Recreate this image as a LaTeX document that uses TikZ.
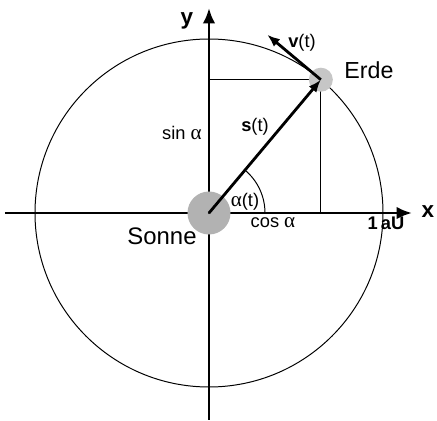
\documentclass[tikz,border=0pt]{standalone}
\usepackage{fontspec}
\setmainfont{Liberation Sans}
\newfontfamily\greekfont{Liberation Serif}
\usetikzlibrary{arrows.meta, positioning, calc}
\tikzstyle{axis} = [line width=2pt, -{Latex[length=11pt,width=9pt]}]
\tikzstyle{vec} = [line width=2pt, -{Latex[length=9pt,width=7pt]}]
\tikzstyle{helper} = [line width=0.6pt]
\tikzstyle{body} = [circle, inner sep=0pt]
\newcommand{\alphasym}{{\greekfont\fontsize{15}{17}\selectfont α}}

\begin{document}
\begin{tikzpicture}[x=0.025cm, y=0.025cm, every node/.style={font=\fontsize{13}{15}\selectfont, inner sep=0pt}]
    \useasboundingbox (-209,-208) rectangle (228,213);

    % Orbit
    \draw[line width=0.7pt] (0,0) circle (174);

    % Axes
    \coordinate (xstart) at (-204,0);
    \coordinate (xend) at (203,0);
    \coordinate (ystart) at (0,-207);
    \coordinate (yend) at (0,205);
    \draw [axis] (xstart) -- (xend);
    \draw [axis] (ystart) -- (yend);
    \node (xlabel) [font=\fontsize{16}{18}\selectfont\bfseries] at (219,1) {x};
    \node (ylabel) [font=\fontsize{16}{18}\selectfont\bfseries] at (-22,192) {y};

    % Projections of the earth position
    \coordinate (earthpos) at (50:174);
    \coordinate (yproj) at (0,0 |- earthpos);
    \coordinate (xproj) at (earthpos |- 0,0);
    \draw [helper] (yproj) -- (earthpos) -- (xproj);

    % Sun and earth
    \node (sonne) [body, fill=gray!60, minimum size=1.075cm] at (0,0) {};
    \node (erde) [body, fill=gray!45, minimum size=0.6cm] at (earthpos) {};
    \fill (sonne.center) circle (1.2);

    % Angle
    \draw [line width=0.7pt] (56,0) arc (0:50:56);

    % Vectors
    \draw [vec] (sonne.center) -- (erde.center);
    \coordinate (vtip) at ($(erde.center)+(140:70)$);
    \draw [vec] (erde.center) -- (vtip);

    % Labels
    \node (erdelabel) [font=\fontsize{16.5}{19}\selectfont] at (160,143) {Erde};
    \node (sonnelabel) [font=\fontsize{17}{19}\selectfont] at (-47,-23) {Sonne};
    \node (slabel) at (46,86) {\textbf{s}(t)};
    \node (vlabel) at (93,170) {\textbf{v}(t)};
    \node (alabel) at (36,11) {\alphasym(t)};
    \node (coslabel) at (64,-10) {cos \alphasym};
    \node (sinlabel) at (-27,80) {sin \alphasym};
    \node (aulabel) [font=\fontsize{13}{15}\selectfont\bfseries] at (177,-10) {1\,aU};
\end{tikzpicture}
\end{document}
